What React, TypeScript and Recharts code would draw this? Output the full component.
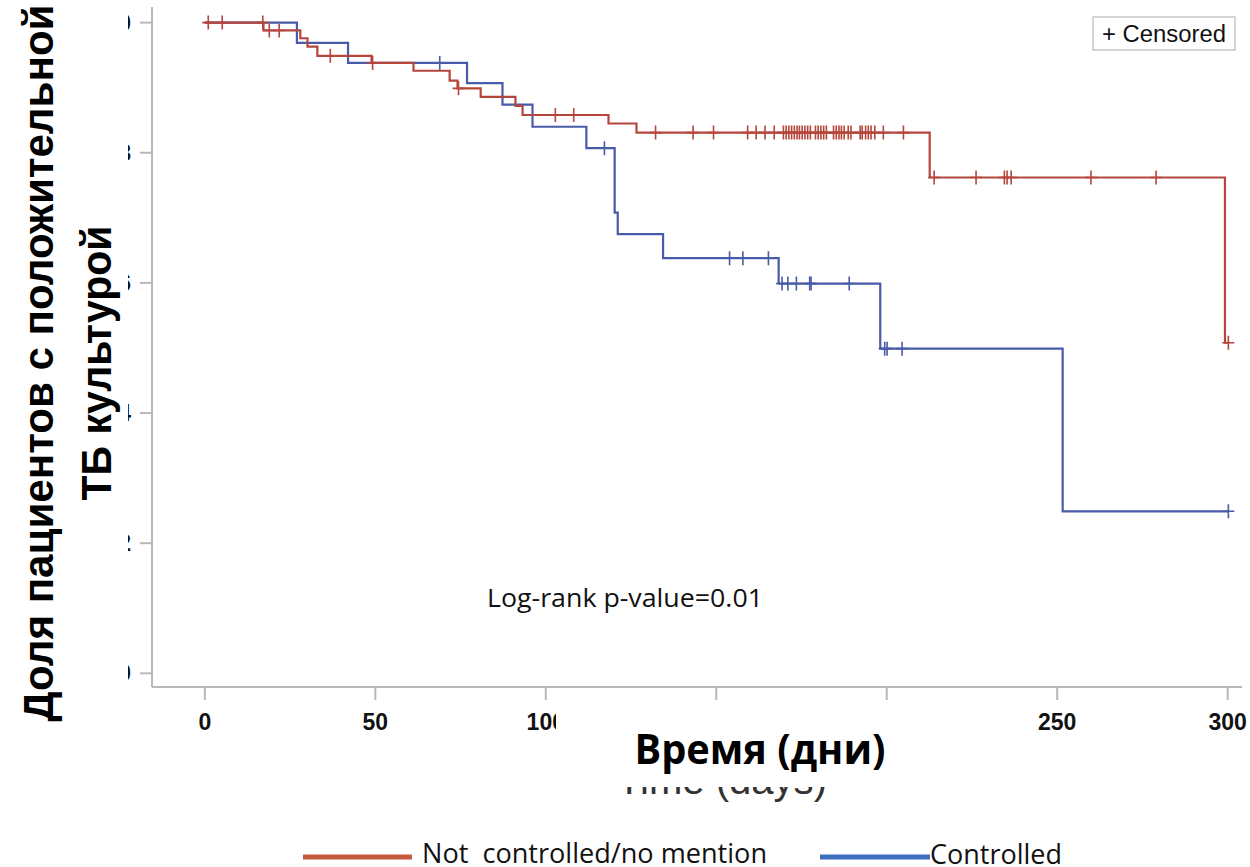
import React from "react";
import { ComposedChart, Line, Scatter, XAxis, YAxis } from "recharts";

const xTicks = [0, 50, 100, 150, 200, 250, 300];
const yTicks = [0, 0.2, 0.4, 0.6, 0.8, 1.0];

// Not controlled / no mention
const redEventDays = [17.2, 28.0, 30.1, 33.0, 48.9, 61.2, 71.8, 74.1, 80.9, 91.1, 93.2, 118.4, 126.6, 212.6, 299.2];
const redSurvival = [0.988, 0.976, 0.963, 0.949, 0.938, 0.926, 0.911, 0.899, 0.886, 0.872, 0.858, 0.845, 0.831, 0.762, 0.508];
const redCensorDays = [
  1, 5.1, 17, 18.9, 21.8, 36.8, 49.2, 74.4, 102.8, 108.2, 132.2, 143.2, 149.2, 159.2, 161.7, 164.3, 167,
  169.7, 170.5, 171.3, 172.1, 172.9, 173.7, 174.4, 175.2, 176, 176.8, 177.6, 179.1, 179.9, 180.7, 181.5,
  182.3, 184.4, 185.2, 186, 186.7, 187.5, 188.7, 189.5, 192.2, 192.8, 193.8, 194.6, 195.4, 196.5, 199,
  204.9, 213.9, 226.2, 234.5, 235.3, 236.5, 259.9, 279, 300.2,
];

// Controlled
const blueEventDays = [27.0, 42.0, 76.9, 87.3, 96.1, 111.9, 120.2, 121.1, 134.4, 168.3, 198.1, 251.6];
const blueSurvival = [0.969, 0.938, 0.907, 0.874, 0.84, 0.807, 0.708, 0.675, 0.638, 0.599, 0.499, 0.249];
const blueCensorDays = [68.9, 117.2, 153.9, 157.8, 165.3, 169.3, 171, 173.5, 177.4, 177.8, 189, 199.4, 200.1, 204.5, 300.2];

const RED = "#B5463B";
const BLUE = "#485BA8";
const FRAME = "#B8B8B8";

type Pt = { t: number; s: number };

const stepData = (days: number[], surv: number[], end: number): Pt[] => [
  { t: 0, s: 1 },
  ...days.map((t, i) => ({ t, s: surv[i] })),
  { t: end, s: surv[surv.length - 1] },
];

// value of the KM step function at time t
const survAt = (days: number[], surv: number[], t: number) => {
  let s = 1;
  days.forEach((d, i) => {
    if (t >= d) s = surv[i];
  });
  return s;
};

const censorData = (censors: number[], days: number[], surv: number[]): Pt[] =>
  censors.map((t) => ({ t, s: survAt(days, surv, t) }));

const redLine = stepData(redEventDays, redSurvival, redCensorDays[redCensorDays.length - 1]);
const blueLine = stepData(blueEventDays, blueSurvival, blueCensorDays[blueCensorDays.length - 1]);
const redCensored = censorData(redCensorDays, redEventDays, redSurvival);
const blueCensored = censorData(blueCensorDays, blueEventDays, blueSurvival);

const plusShape = (color: string) => (props: any) => {
  const { cx, cy } = props;
  return (
    <path
      d={`M${cx},${cy - 7}V${cy + 7}M${cx - 6},${cy}H${cx + 6}`}
      stroke={color}
      strokeWidth={1.6}
      fill="none"
    />
  );
};

const tickStyle = {
  fontFamily: "'Liberation Sans', Arial, sans-serif",
  fontWeight: "bold" as const,
  fontSize: 23,
  fill: "#111",
};

const App = () => {
  return (
    <div style={{ position: "absolute", left: 0, top: 0, width: 1250, height: 867, background: "#fff" }}>
      <ComposedChart width={1250} height={867} margin={{ top: 7, right: 8, bottom: 120, left: 0 }}>
        <XAxis
          dataKey="t"
          type="number"
          domain={[-15.5, 304.2]}
          ticks={xTicks}
          interval={0}
          allowDataOverflow
          height={60}
          tickSize={13}
          tickMargin={14}
          tick={tickStyle}
          axisLine={{ stroke: FRAME, strokeWidth: 2 }}
          tickLine={{ stroke: FRAME, strokeWidth: 2 }}
        />
        <XAxis
          xAxisId="top"
          orientation="top"
          type="number"
          domain={[-15.5, 304.2]}
          height={0}
          tick={false}
          tickLine={false}
          axisLine={{ stroke: FRAME, strokeWidth: 2 }}
        />
        <YAxis
          dataKey="s"
          type="number"
          domain={[-0.021, 1.024]}
          ticks={yTicks}
          interval={0}
          allowDataOverflow
          width={152}
          tickSize={12}
          tickMargin={9}
          tick={tickStyle}
          tickFormatter={(v: number) => v.toFixed(1)}
          axisLine={{ stroke: FRAME, strokeWidth: 2 }}
          tickLine={{ stroke: FRAME, strokeWidth: 2 }}
        />
        <YAxis
          yAxisId="right"
          orientation="right"
          type="number"
          domain={[0, 1]}
          width={0}
          tick={false}
          tickLine={false}
          axisLine={{ stroke: FRAME, strokeWidth: 2 }}
        />
        <Line
          data={blueLine}
          dataKey="s"
          type="stepAfter"
          stroke={BLUE}
          strokeWidth={2.2}
          dot={false}
          isAnimationActive={false}
        />
        <Scatter data={blueCensored} dataKey="s" shape={plusShape(BLUE)} isAnimationActive={false} />
        <Line
          data={redLine}
          dataKey="s"
          type="stepAfter"
          stroke={RED}
          strokeWidth={2.2}
          dot={false}
          isAnimationActive={false}
        />
        <Scatter data={redCensored} dataKey="s" shape={plusShape(RED)} isAnimationActive={false} />
      </ComposedChart>

      <svg
        width={1250}
        height={867}
        style={{ position: "absolute", left: 0, top: 0, pointerEvents: "none" }}
      >
        {/* censored legend */}
        <rect x={1093} y={17} width={142} height={33} fill="#fff" stroke="#C8C8C8" strokeWidth={1.5} />
        <text
          x={1102}
          y={41.5}
          fontFamily="'Liberation Sans', Arial, sans-serif"
          fontSize={23}
          fill="#111"
          textLength={124}
          lengthAdjust="spacingAndGlyphs"
        >
          + Censored
        </text>

        <text
          x={487}
          y={607}
          fontFamily="'Open Sans', sans-serif"
          fontSize={26}
          fill="#111"
          textLength={276}
          lengthAdjust="spacingAndGlyphs"
        >
          Log-rank p-value=0.01
        </text>

        {/* original english x title, mostly covered */}
        <text
          x={722}
          y={794}
          textAnchor="middle"
          fontFamily="'Liberation Sans', Arial, sans-serif"
          fontSize={40}
          fill="#333"
          textLength={210}
          lengthAdjust="spacingAndGlyphs"
        >
          Time (days)
        </text>
        <rect x={556} y={706} width={353} height={81} fill="#fff" />
        <text
          x={760}
          y={764}
          textAnchor="middle"
          fontFamily="'Open Sans', sans-serif"
          fontWeight="bold"
          fontSize={42}
          fill="#000"
          textLength={251}
          lengthAdjust="spacingAndGlyphs"
        >
          Время (дни)
        </text>

        {/* russian y title over the tick labels */}
        <rect x={0} y={0} width={128} height={735} fill="#fff" />
        <text
          transform="translate(53,363) rotate(-90)"
          textAnchor="middle"
          fontFamily="'Liberation Sans', Arial, sans-serif"
          fontWeight="bold"
          fontSize={43}
          fill="#000"
          textLength={717}
          lengthAdjust="spacingAndGlyphs"
        >
          Доля пациентов с положительной
        </text>
        <text
          transform="translate(111,363) rotate(-90)"
          textAnchor="middle"
          fontFamily="'Liberation Sans', Arial, sans-serif"
          fontWeight="bold"
          fontSize={43}
          fill="#000"
          textLength={275}
          lengthAdjust="spacingAndGlyphs"
        >
          ТБ культурой
        </text>

        {/* group legend */}
        <line x1={303} y1={857} x2={412} y2={857} stroke="#C65A3C" strokeWidth={5} />
        <text
          x={422}
          y={863}
          fontFamily="'Open Sans', sans-serif"
          fontSize={28}
          fill="#111"
          style={{ whiteSpace: "pre" }}
          textLength={345}
          lengthAdjust="spacingAndGlyphs"
        >
          Not  controlled/no mention
        </text>
        <line x1={820} y1={857} x2={930} y2={857} stroke="#3F6EBF" strokeWidth={5} />
        <text
          x={930}
          y={864}
          fontFamily="'Open Sans', sans-serif"
          fontSize={28}
          fill="#111"
          textLength={132}
          lengthAdjust="spacingAndGlyphs"
        >
          Controlled
        </text>
      </svg>
    </div>
  );
};

export default App;
